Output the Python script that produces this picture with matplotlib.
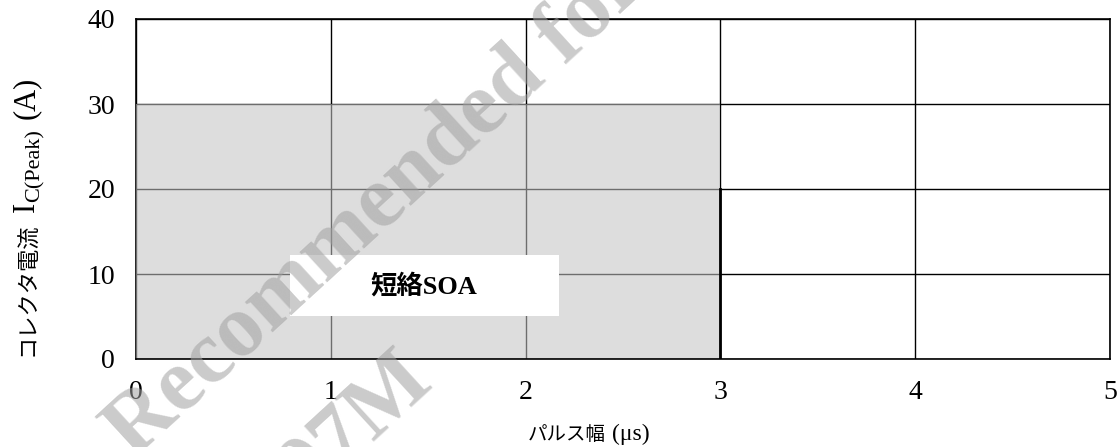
import matplotlib.pyplot as plt
from matplotlib.patches import Rectangle

# axis ticks
x_ticks = [0, 1, 2, 3, 4, 5]
y_ticks = [0, 10, 20, 30, 40]

# short-circuit SOA area (pulse width us, collector current A)
soa_x = [0, 3]
soa_top = [30, 30]

# boundary line at the SOA edge
edge_x = [3, 3]
edge_y = [0, 20]

# label box (data coords)
box_x0, box_x1 = 0.79, 2.17
box_y0, box_y1 = 5.06, 12.2
label_pos = (1.48, 8.6)

# label pieces: text, size, baseline shift (px), gap after (px)
ylabel_parts = [
    ('コレクタ電流', 16, 0, 10),
    ('I', 22, 0, 0),
    ('C(Peak)', 16, 6, 10),
    ('(A)', 22, 0, 0),
]
xlabel_parts = [
    ('パルス幅', 14, 0, 6),
    ('(μs)', 17, 0, 0),
]

W, H = 1120, 447
plt.rcParams['font.family'] = ['Liberation Serif', 'Noto Sans CJK JP', 'DejaVu Sans']

fig = plt.figure(figsize=(W / 100, H / 100), dpi=100)
ax = fig.add_axes([136 / W, 88 / H, 974 / W, 340 / H])

ax.set_xlim(0, 5)
ax.set_ylim(0, 40)
ax.set_xticks(x_ticks)
ax.set_yticks(y_ticks)
ax.tick_params(length=0, labelsize=20)
ax.tick_params(axis='x', pad=15)
ax.tick_params(axis='y', pad=15)
ax.grid(True, color='black', linewidth=1.0, zorder=1)
ax.set_axisbelow(True)
for s in ax.spines.values():
    s.set_color('black')
    s.set_linewidth(1.2)
ax.spines['bottom'].set_zorder(3)

# gray SOA area, semi transparent so the grid shows through as gray
ax.fill_between(soa_x, 0, soa_top, color=(0.77, 0.77, 0.77), alpha=0.56,
                linewidth=0, zorder=2.6)
ax.plot(edge_x, edge_y, color='black', linewidth=2, zorder=3)

ax.add_patch(Rectangle((box_x0, box_y0), box_x1 - box_x0, box_y1 - box_y0,
                       facecolor='white', edgecolor='none', zorder=4))
ax.text(label_pos[0], label_pos[1], '短絡SOA', fontsize=19, fontweight='bold',
        ha='center', va='center', zorder=5)

renderer = fig.canvas.get_renderer()

# y label, rotated pieces running upward
base_x = 34
cur_y = H - 356
for txt, size, shift, gap in ylabel_parts:
    t = fig.text((base_x + shift) / W, cur_y / H, txt, fontsize=size,
                 rotation=90, rotation_mode='anchor', ha='left', va='baseline')
    cur_y = t.get_window_extent(renderer).y1 + gap

# x label, pieces running right
base_y = H - 440
cur_x = 528
for txt, size, shift, gap in xlabel_parts:
    t = fig.text(cur_x / W, (base_y - shift) / H, txt, fontsize=size,
                 ha='left', va='baseline')
    cur_x = t.get_window_extent(renderer).x1 + gap

# watermark
wm = dict(fontsize=64, fontweight='bold', family='Liberation Serif',
          color='#a0a0a0', alpha=0.55, rotation=42.5, rotation_mode='anchor',
          va='baseline', zorder=10)
fig.text(133 / W, 1 - 460 / H, 'Recommended for', ha='left', **wm)
fig.text(434 / W, 1 - 382 / H, '07M', ha='right', **wm)

fig.savefig('out.png', dpi=100)
